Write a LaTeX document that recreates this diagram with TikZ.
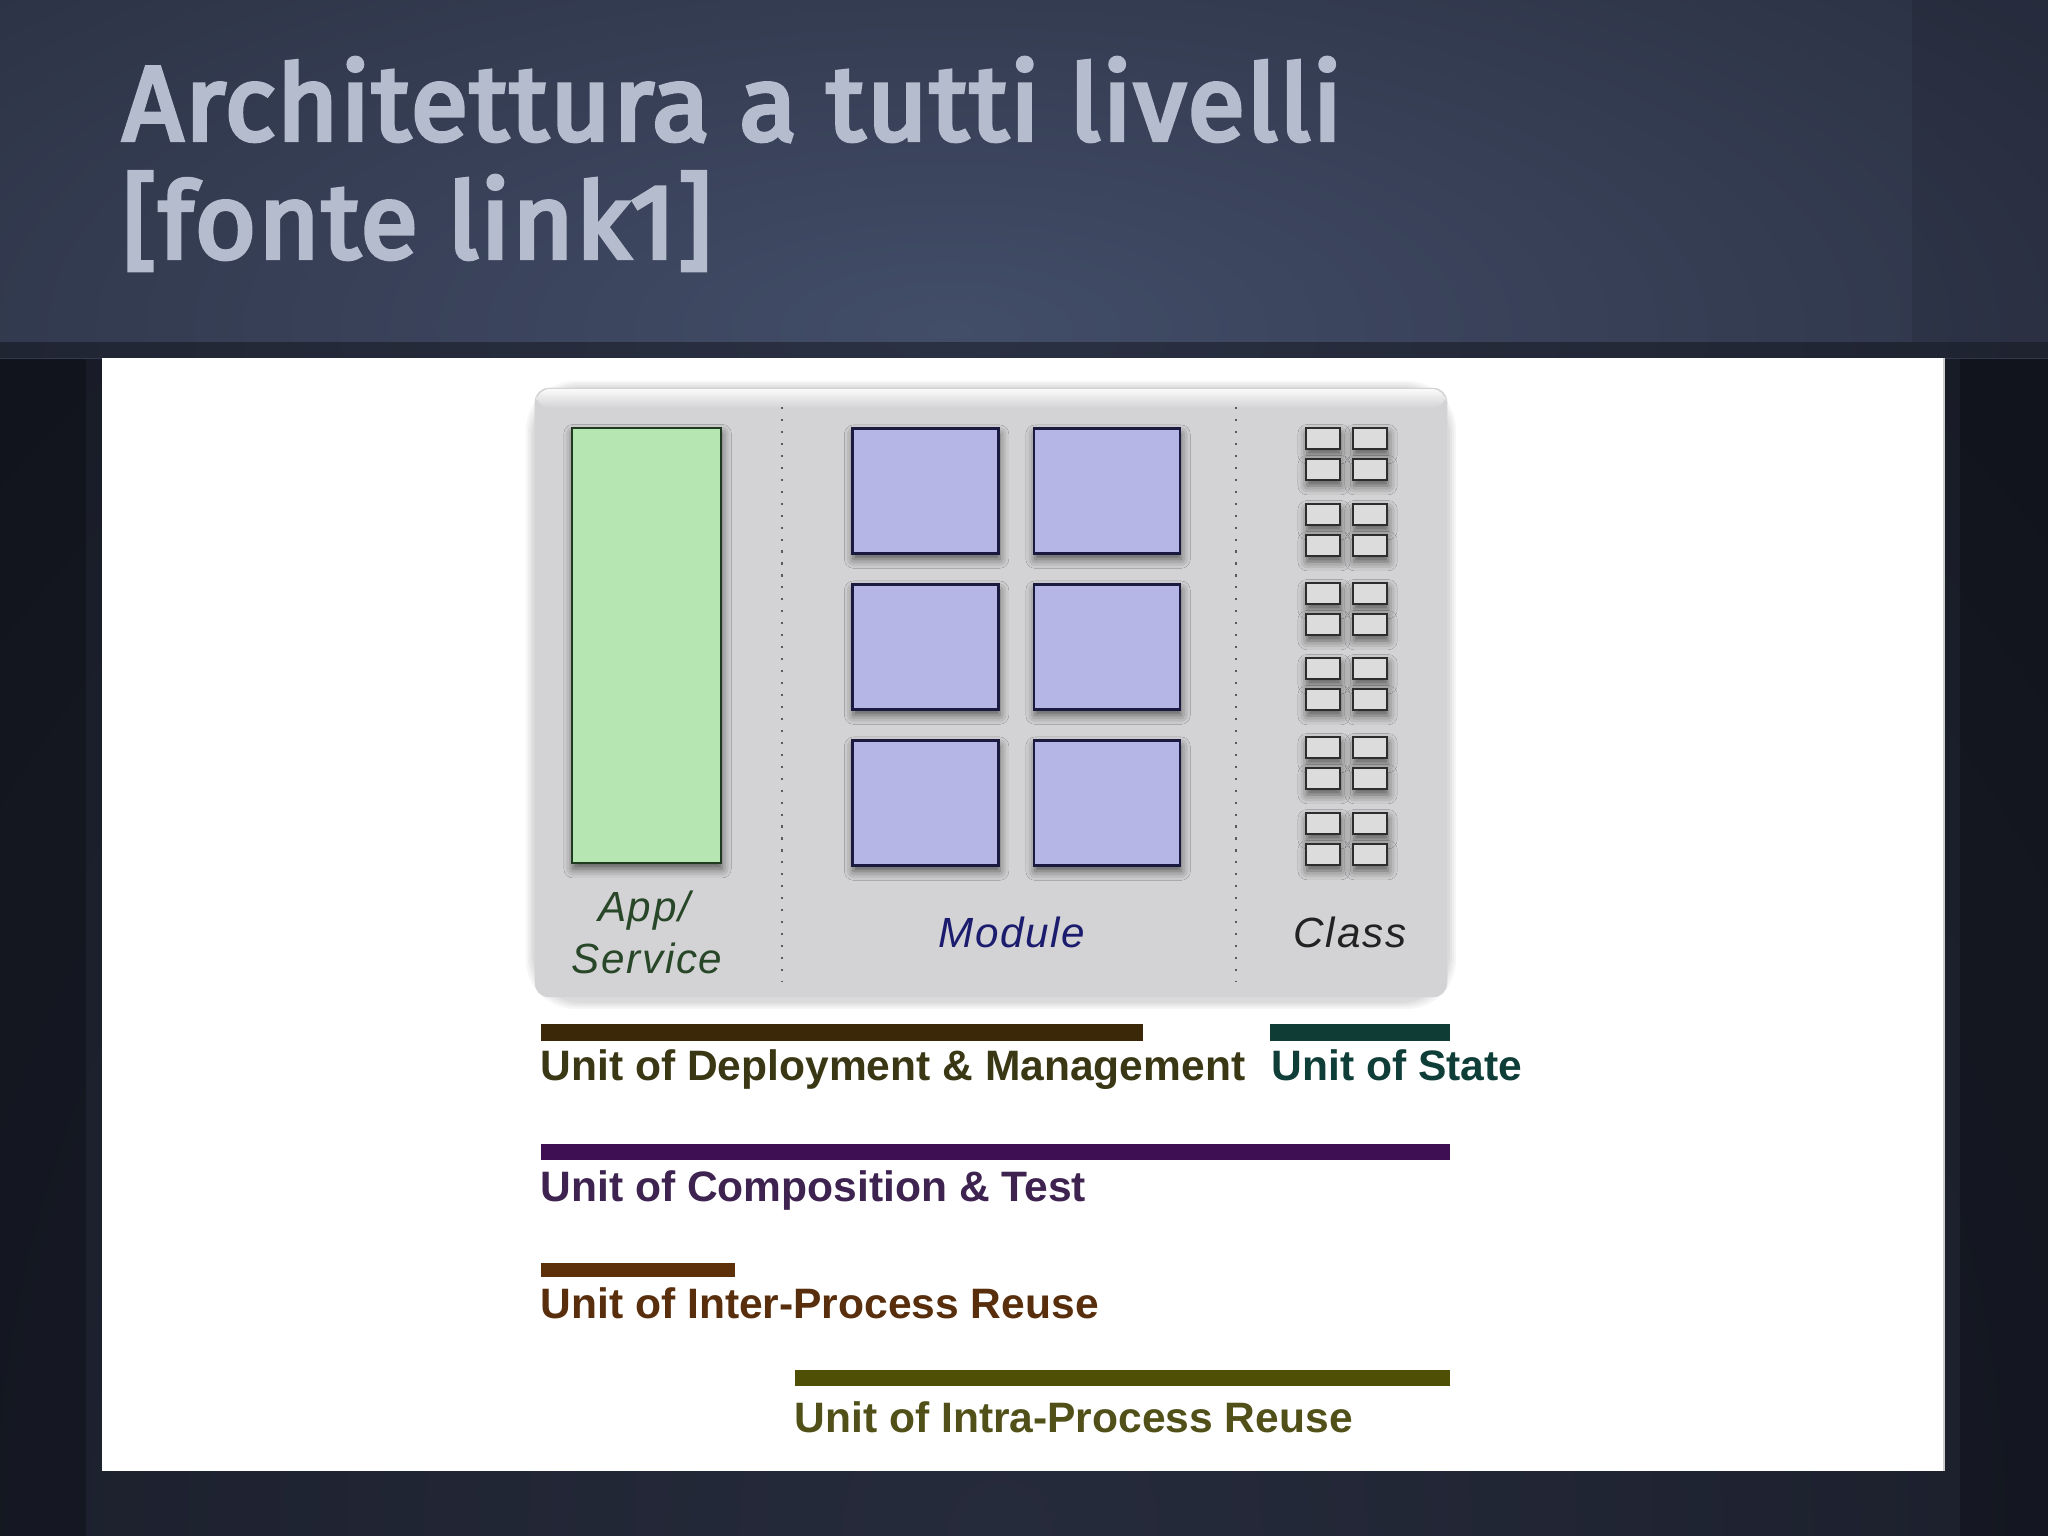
\documentclass[tikz,border=0pt]{standalone}
\usepackage{fontspec}
\setmainfont{Liberation Sans}
\newfontfamily\titlefont[FakeBold=4,LetterSpace=1.8,Ligatures={NoCommon,NoContextual}]{Fira Sans}
\newfontfamily\labfont[LetterSpace=4]{Liberation Sans}
\usetikzlibrary{shadows.blur}
\definecolor{bgdark}{RGB}{24,27,38}
\definecolor{toplight}{RGB}{66,77,104}
\definecolor{topdark}{RGB}{32,36,50}
\definecolor{botlight}{RGB}{38,43,60}
\definecolor{botdark}{RGB}{17,20,28}
\definecolor{titlecol}{RGB}{180,188,206}
\definecolor{panelgray}{RGB}{211,211,213}
\definecolor{appfill}{RGB}{182,230,178}
\definecolor{appdraw}{RGB}{32,58,32}
\definecolor{modfill}{RGB}{182,182,230}
\definecolor{moddraw}{RGB}{26,26,64}
\definecolor{clsfill}{RGB}{220,220,220}
\definecolor{clsdraw}{RGB}{45,45,45}
\definecolor{dotcol}{RGB}{90,90,90}
\definecolor{apptext}{RGB}{40,70,40}
\definecolor{modtext}{RGB}{28,28,110}
\definecolor{clstext}{RGB}{34,34,34}
\definecolor{barA}{RGB}{58,40,8}
\definecolor{txtA}{RGB}{58,56,20}
\definecolor{barB}{RGB}{15,60,52}
\definecolor{txtB}{RGB}{15,62,56}
\definecolor{barC}{RGB}{62,15,82}
\definecolor{txtC}{RGB}{62,34,80}
\definecolor{barD}{RGB}{94,48,10}
\definecolor{txtD}{RGB}{88,46,12}
\definecolor{barE}{RGB}{79,79,6}
\definecolor{txtE}{RGB}{80,80,24}
\begin{document}
\begin{tikzpicture}[x=0.01cm,y=-0.01cm,
  titletext/.style={font=\titlefont\fontsize{30pt}{36pt}\selectfont, text=titlecol, anchor=base west, inner sep=0pt},
  boxshadow/.style={blur shadow={shadow xshift=0.3pt, shadow yshift=-1.6pt, shadow opacity=60, shadow blur radius=2.6pt}},
  appbox/.style={draw=appdraw, line width=0.7pt, fill=appfill, minimum width=1.49cm, minimum height=4.35cm, inner sep=0pt, boxshadow},
  modbox/.style={draw=moddraw, line width=0.8pt, fill=modfill, minimum width=1.46cm, minimum height=1.25cm, inner sep=0pt, boxshadow},
  clsbox/.style={draw=clsdraw, line width=0.6pt, fill=clsfill, minimum width=0.34cm, minimum height=0.21cm, inner sep=0pt, boxshadow},
  sep/.style={draw=dotcol, line width=0.55pt, dash pattern=on 0.6pt off 2.8pt},
  lab/.style={font=\labfont\itshape\fontsize{12pt}{14pt}\selectfont, anchor=base, inner sep=0pt},
  legtext/.style={font=\bfseries\fontsize{12.1pt}{14pt}\selectfont, anchor=base west, inner sep=0pt}]
\useasboundingbox (0,0) rectangle (2048,1536);
% background
\fill[bgdark] (0,0) rectangle (2048,1536);
\begin{scope}
  \clip (0,358) rectangle (2048,1536);
  \shade[inner color=botlight, outer color=botdark] (1000-2200,1536-2400) rectangle (1000+2200,1536+2400);
\end{scope}
\fill[black, opacity=0.25] (0,358) rectangle (86,1536);
\fill[black, opacity=0.25] (1960,358) rectangle (2048,1536);
\begin{scope}
  \clip (0,0) rectangle (2048,358);
  \shade[inner color=toplight, outer color=topdark] (950-2000,330-800) rectangle (950+2000,330+800);
\end{scope}
\fill[black, opacity=0.1] (1912,0) rectangle (2048,342);
\fill[black, opacity=0.35] (0,342) rectangle (2048,358);
% title
\node[titletext] (title1) at (122,140) {Architettura a tutti livelli};
\node[titletext] (title2) at (122,258) {[fonte link1]};
% white panel
\fill[white] (102,358) rectangle (1944,1471);
\draw[gray!40, line width=0.3pt] (1944,358) -- (1944,1471);
% grey panel with soft edges
\foreach \k in {9,7,5,3}{
  \fill[black, opacity=0.035, rounded corners=14pt] (535-\k,388-\k+2) rectangle (1447+\k,997+\k+3);
}
\node[fill=panelgray, rounded corners=4pt, minimum width=9.12cm, minimum height=6.09cm, inner sep=0pt] (panel) at (991,692.5) {};
\shade[top color=white!88!panelgray, bottom color=panelgray, rounded corners=4pt] (536,389) rectangle (1446,408);
% separators
\coordinate (s1t) at (782,407); \coordinate (s1b) at (782,982);
\coordinate (s2t) at (1236,407); \coordinate (s2b) at (1236,982);
\draw[sep] (s1t) -- (s1b);
\draw[sep] (s2t) -- (s2b);
% app
\node[appbox] (app) at (646.5,645.5) {};
% modules
\foreach \r/\yy in {1/491,2/647,3/803}{
  \node[modbox] (m\r a) at (925.5,\yy) {};
  \node[modbox] (m\r b) at (1107,\yy) {};
}
% classes
\foreach \p/\top in {1/428,2/504,3/583,4/658,5/737,6/813}{
  \node[clsbox] (c\p a) at (1323,\top+10.5) {};
  \node[clsbox] (c\p b) at (1370,\top+10.5) {};
  \node[clsbox] (c\p c) at (1323,\top+41.5) {};
  \node[clsbox] (c\p d) at (1370,\top+41.5) {};
}
% labels
\node[lab, text=apptext] (lapp1) at (644,921) {App/};
\node[lab, text=apptext] (lapp2) at (647,973) {Service};
\node[lab, text=modtext] (lmod) at (1012,947) {Module};
\node[lab, text=clstext] (lcls) at (1350,947) {Class};
% legend bars
\fill[barA] (541,1024) rectangle (1143,1041);
\fill[barB] (1270,1024) rectangle (1450,1041);
\fill[barC] (541,1144) rectangle (1450,1160);
\fill[barD] (541,1263) rectangle (735,1277);
\fill[barE] (795,1370) rectangle (1450,1386);
% legend texts
\node[legtext, text=txtA] (tA) at (540,1080) {Unit of Deployment \& Management};
\node[legtext, text=txtB] (tB) at (1271,1080) {Unit of State};
\node[legtext, text=txtC] (tC) at (540,1201) {Unit of Composition \& Test};
\node[legtext, text=txtD] (tD) at (540,1318) {Unit of Inter-Process Reuse};
\node[legtext, text=txtE] (tE) at (794,1432) {Unit of Intra-Process Reuse};
\end{tikzpicture}
\end{document}
